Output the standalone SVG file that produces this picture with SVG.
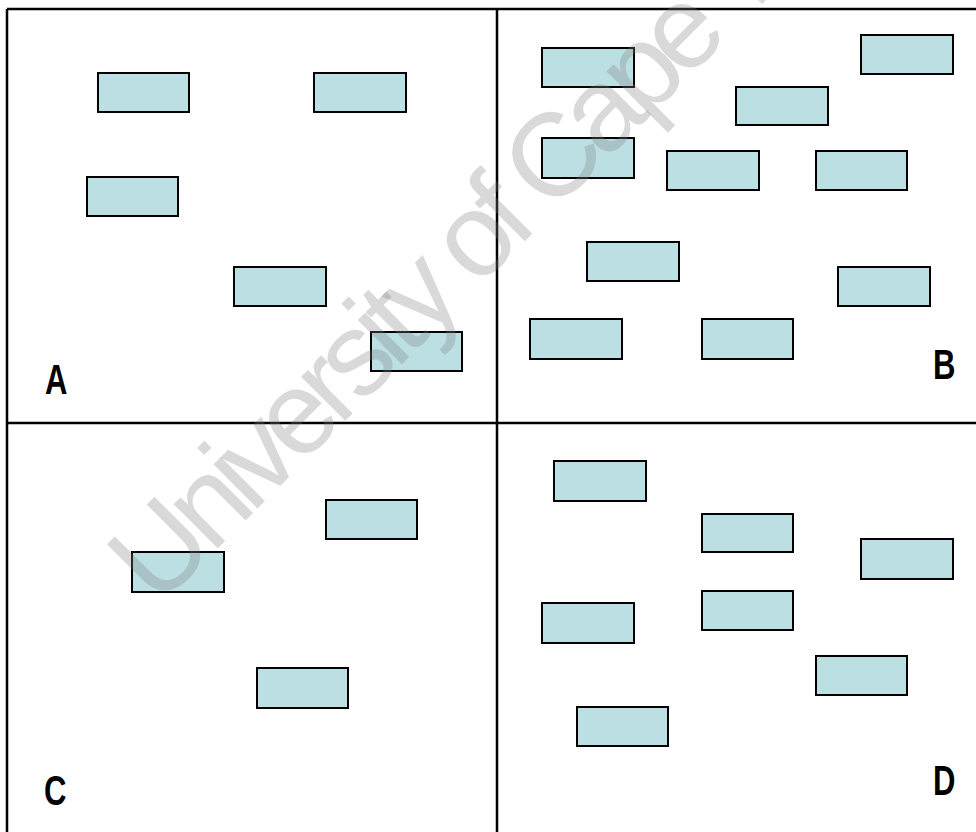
<svg xmlns="http://www.w3.org/2000/svg" width="976" height="832" viewBox="0 0 976 832">
<style>
.frame{stroke:#000;stroke-width:2.5;fill:none}
.box{fill:#BBDFE3;stroke:#000;stroke-width:2}
.lbl{font-family:"Liberation Sans",Arial,sans-serif;font-weight:bold;font-size:42px;fill:#000}
.wm{font-family:"Liberation Sans",Arial,sans-serif;font-size:118px;letter-spacing:-9px;fill:#808080;fill-opacity:0.3}
</style>
<rect width="976" height="832" fill="#fff"/>
<g id="frame">
<path class="frame" d="M7,9 H980 M7,9 V840 M497,9 V840 M7,423 H980"/>
</g>
<g id="panelA">
<rect class="box" x="98" y="73" width="91" height="39"/>
<rect class="box" x="314" y="73" width="92" height="39"/>
<rect class="box" x="87" y="177" width="91" height="39"/>
<rect class="box" x="234" y="267" width="92" height="39"/>
<rect class="box" x="371" y="332" width="91" height="39"/>
<text class="lbl" transform="translate(45,394) scale(0.74,1)">A</text>
</g>
<g id="panelB">
<rect class="box" x="542" y="48" width="92" height="39"/>
<rect class="box" x="861" y="35" width="92" height="39"/>
<rect class="box" x="736" y="87" width="92" height="38"/>
<rect class="box" x="542" y="138" width="92" height="40"/>
<rect class="box" x="667" y="151" width="92" height="39"/>
<rect class="box" x="816" y="151" width="91" height="39"/>
<rect class="box" x="587" y="242" width="92" height="39"/>
<rect class="box" x="838" y="267" width="92" height="39"/>
<rect class="box" x="530" y="319" width="92" height="40"/>
<rect class="box" x="702" y="319" width="91" height="40"/>
<text class="lbl" transform="translate(933,379) scale(0.74,1)">B</text>
</g>
<g id="panelC">
<rect class="box" x="326" y="500" width="91" height="39"/>
<rect class="box" x="132" y="552" width="92" height="40"/>
<rect class="box" x="257" y="668" width="91" height="40"/>
<text class="lbl" transform="translate(44,805) scale(0.74,1)">C</text>
</g>
<g id="panelD">
<rect class="box" x="554" y="461" width="92" height="40"/>
<rect class="box" x="702" y="514" width="91" height="38"/>
<rect class="box" x="861" y="539" width="92" height="40"/>
<rect class="box" x="542" y="603" width="92" height="40"/>
<rect class="box" x="702" y="591" width="91" height="39"/>
<rect class="box" x="816" y="656" width="91" height="39"/>
<rect class="box" x="577" y="707" width="91" height="39"/>
<text class="lbl" transform="translate(933,795) scale(0.74,1)">D</text>
</g>
<g id="watermark">
<text class="wm" transform="translate(158,608) rotate(-45)">University of Cape Town</text>
</g>
</svg>
